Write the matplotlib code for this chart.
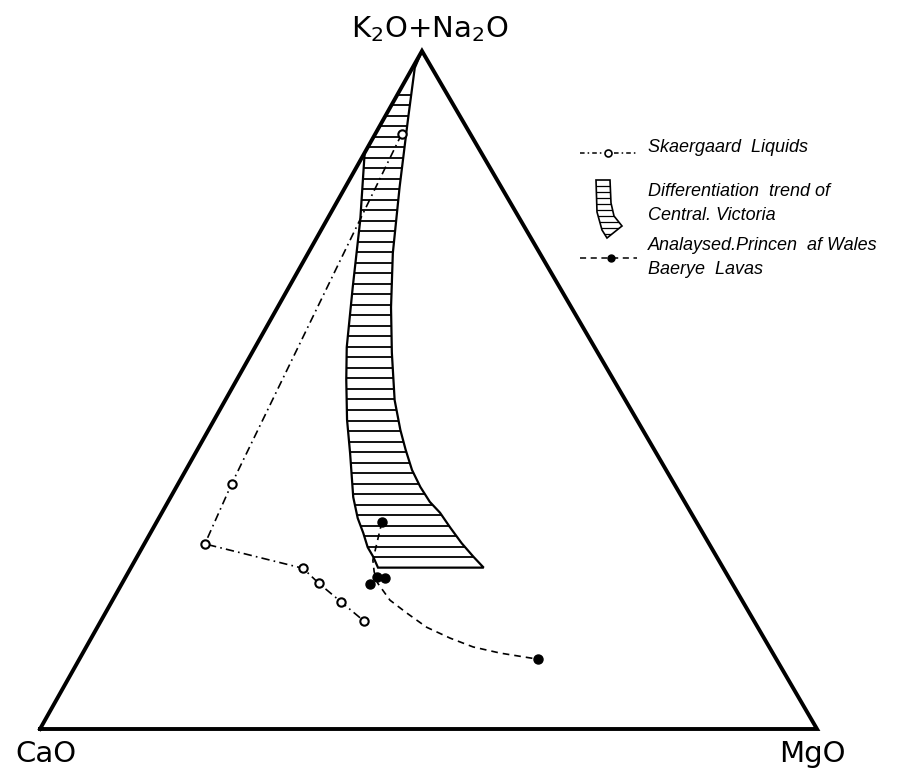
import numpy as np
import matplotlib.pyplot as plt
from matplotlib.patches import Polygon
from matplotlib.transforms import Affine2D

# compositions in wt%: K2O+Na2O / MgO / CaO
skaer_alk = [87.8, 36.1, 27.3, 23.7, 21.5, 18.7, 15.9]
skaer_mgo = [3.4, 6.9, 7.8, 22.2, 25.3, 29.6, 33.9]
skaer_cao = [8.8, 57.0, 64.9, 54.1, 53.2, 51.7, 50.2]

lava_alk = [30.5, 22.4, 22.3, 21.4, 10.3]
lava_mgo = [29.0, 32.4, 33.5, 31.9, 59.0]
lava_cao = [40.5, 45.2, 44.2, 46.7, 30.7]

# hand-drawn trend through the lavas
lava_trend_alk = [30.5, 24.9, 23.2, 21.5, 19.0, 17.1, 15.0, 13.4, 12.1, 11.2, 10.3]
lava_trend_mgo = [29.0, 30.6, 31.6, 32.9, 35.7, 38.8, 42.4, 46.2, 49.8, 53.7, 59.0]

# Central Victoria band: low-MgO edge (top -> bottom), high-MgO edge (bottom -> top)
cv_lo_alk = [100, 85.0, 75.1, 65.2, 56.3, 51.5, 45.6, 40.7, 34.2, 31.1, 28.9, 26.8, 25.4, 23.8]
cv_lo_mgo = [0, 0, 4.3, 8.2, 11.8, 14.1, 17.1, 19.9, 23.5, 25.6, 27.4, 29.0, 30.4, 31.8]
cv_hi_alk = [23.8, 25.4, 27.4, 29.7, 31.9, 33.5, 35.7, 38.2, 41.2, 44.1, 48.5,
             55.5, 62.2, 70.2, 79.9, 89.8, 97.5]
cv_hi_mgo = [45.4, 43.3, 40.8, 38.2, 35.8, 33.7, 31.4, 29.1, 26.8, 24.7, 21.8,
             18.0, 14.6, 10.9, 7.0, 3.2, 0.3]

APEX = (0.4916, 0.8726)   # apex of the triangle, base CaO (0,0) -> MgO (1,0)


def tern(alk, mgo, cao=None):
    alk = np.asarray(alk, float)
    mgo = np.asarray(mgo, float)
    cao = 100.0 - alk - mgo if cao is None else np.asarray(cao, float)
    tot = alk + mgo + cao
    a, m = alk / tot, mgo / tot
    return m + a * APEX[0], a * APEX[1]


fig = plt.figure(figsize=(8.99, 7.73), dpi=100)
ax = fig.add_axes([0, 0, 1, 1])
ax.set_xlim(-40 / 777, 859 / 777)
ax.set_ylim(-44 / 777, 729 / 777)
ax.axis('off')

# pixel coords, y downwards, for labels and key
pix = Affine2D().scale(1 / 899, -1 / 773).translate(0, 1) + fig.transFigure

# triangle
tx, ty = tern([0, 0, 100, 0], [0, 100, 0, 0])
ax.plot(tx, ty, 'k', lw=2.8, solid_joinstyle='miter', zorder=3)

# differentiation band with horizontal ruling
bx, by = tern(cv_lo_alk + cv_hi_alk, cv_lo_mgo + cv_hi_mgo)
band = Polygon(np.column_stack([bx, by]), closed=True, fc='white', ec='k', lw=1.6, zorder=2)
ax.add_patch(band)
for lev in np.arange(23.8, 94.0, 1.55):
    hx, hy = tern([lev, lev], [0, 100 - lev])
    ln, = ax.plot(hx, hy, 'k', lw=1.3, zorder=2.5)
    ln.set_clip_path(band)

# Skaergaard liquids
sx, sy = tern(skaer_alk, skaer_mgo, skaer_cao)
ax.plot(sx, sy, color='k', lw=1.2, ls=(0, (5, 2.5, 1, 2.5)), zorder=4)
ax.plot(sx, sy, 'o', ms=6, mfc='white', mec='k', mew=1.5, zorder=5)

# Princen of Wales lavas
trx, try_ = tern(lava_trend_alk, lava_trend_mgo)
ax.plot(trx, try_, color='k', lw=1.2, ls=(0, (4, 3)), zorder=4)
lx, ly = tern(lava_alk, lava_mgo, lava_cao)
ax.plot(lx, ly, 'o', ms=6.5, color='k', zorder=5)

# corner labels
lab = dict(transform=pix, ha='center', va='baseline', fontsize=21)
ax.text(430, 37, r'K$_2$O+Na$_2$O', **lab)
ax.text(46, 762, 'CaO', **lab)
ax.text(812, 762, 'MgO', **lab)

# key
kf = dict(transform=pix, family=['Liberation Sans', 'DejaVu Sans'],
          style='italic', fontsize=13, va='baseline', ha='left')
dashdot = (0, (3, 2, 1, 2))
ax.plot([580, 602], [153, 153], transform=pix, color='k', lw=1.1, ls=dashdot)
ax.plot([614, 637], [153, 153], transform=pix, color='k', lw=1.1, ls=dashdot)
ax.plot([608], [153], 'o', transform=pix, ms=5, mfc='white', mec='k', mew=1.2)
ax.text(648, 152, 'Skaergaard  Liquids', **kf)

glyph = Polygon([(596, 180), (610, 180), (611, 203), (614, 216), (622, 226),
                 (607, 238), (602, 230), (597, 212)], closed=True,
                fc='white', ec='k', lw=1.2, transform=pix)
ax.add_patch(glyph)
for yy in range(186, 240, 6):
    ln, = ax.plot([590, 630], [yy, yy], transform=pix, color='k', lw=0.9)
    ln.set_clip_path(glyph)
ax.text(648, 196, 'Differentiation  trend of', **kf)
ax.text(648, 220, 'Central. Victoria', **kf)

ax.plot([580, 637], [258, 258], transform=pix, color='k', lw=1.1, ls=(0, (4, 3)))
ax.plot([611], [258], 'o', transform=pix, ms=5, color='k')
ax.text(648, 250, 'Analaysed.Princen  af Wales', **kf)
ax.text(648, 274, 'Baerye  Lavas', **kf)

fig.savefig('out.png', dpi=100)
